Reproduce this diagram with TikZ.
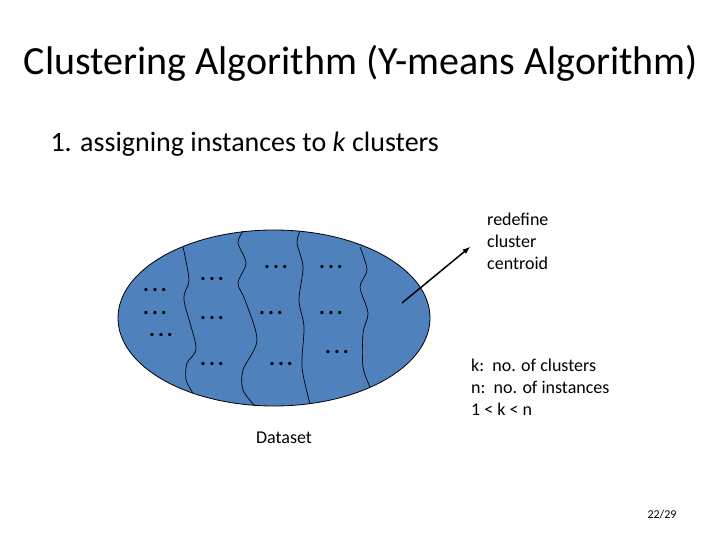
\documentclass[tikz,border=0pt]{standalone}
\usepackage{fontspec}
\setmainfont{Carlito}
\begin{document}
\begin{tikzpicture}[x=1pt,y=-1pt,
  wav/.style={black,line width=0.7pt},
  dots/.style={font=\fontsize{22}{22}\selectfont\bfseries,inner sep=0pt},
  lbl/.style={font=\fontsize{18}{22}\selectfont,inner sep=0pt,align=left}]
\useasboundingbox (0,0) rectangle (720,540);
\node[font=\fontsize{40}{44}\selectfont] (title) at (361,63) {Clustering Algorithm (Y-means Algorithm)};
\node[font=\fontsize{28}{30}\selectfont,anchor=west] (sub) at (47,144) {1. assigning instances to \textit{k} clusters};
\path[fill={rgb,255:red,79;green,129;blue,189},draw=black,line width=0.8pt] (274,318) ellipse [x radius=156,y radius=88];
\node[coordinate] (ds) at (274,318) {};
\draw[wav] plot[smooth] coordinates {(183,247)(189,280)(184,300)(196,347)(187,363)(186,380)(193,393)};
\draw[wav] plot[smooth] coordinates {(243,231)(238,243)(246,263)(238,283)(245,300)(257,340)(243,370)(243,390)(255,406)};
\draw[wav] plot[smooth] coordinates {(300,231)(297,243)(303,267)(299,300)(304,327)(302,367)(310,404)};
\draw[wav] plot[smooth] coordinates {(360,247)(367,270)(360,287)(368,313)(363,333)(363,367)(370,387)};
\foreach \n/\x/\y in {a/155/290,b/155/313,c/161/335,d/212/279,e/212/318,f/212/364,g/276/267,h/271/313,i/281/364,j/331/267,k/331/313,l/337/352}
  \node[dots] (d\n) at (\x,\y) {.\kern3pt.\kern3pt.};
\node[coordinate] (s) at (402,303) {};
\node[coordinate] (e) at (470,247) {};
\draw[-latex,line width=1.5pt] (s) -- (e);
\node[lbl,anchor=north west] (rd) at (487,213) {redefine\\cluster\\centroid};
\node[lbl,anchor=north west] (kn) at (471,359) {k:\ \ no. of clusters\\n:\ \ no. of instances\\1 < k < n};
\node[lbl] (dsl) at (284,438) {Dataset};
\node[font=\fontsize{12}{13}\selectfont] (pg) at (662,515) {22/29};
\end{tikzpicture}
\end{document}
